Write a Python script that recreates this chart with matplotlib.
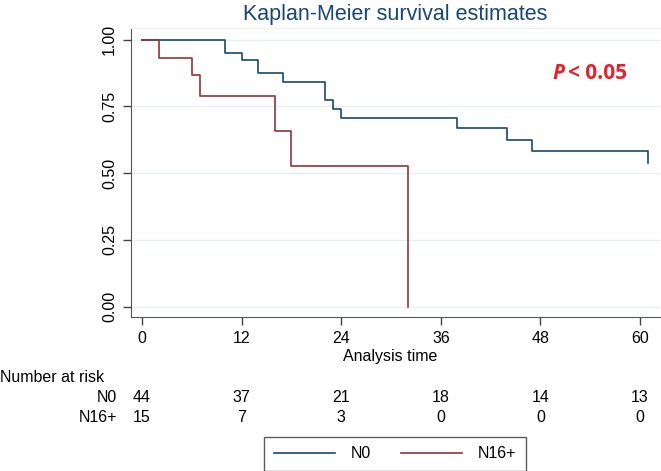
import matplotlib
matplotlib.use('Agg')
from matplotlib import pyplot as plt
from matplotlib import transforms

plt.rcParams['font.family'] = ['Liberation Sans', 'DejaVu Sans']

# Kaplan-Meier step values
n0_time = [0, 10, 12, 14, 17, 22, 23, 24, 38, 44, 47, 61]
n0_surv = [1.0, 0.95, 0.925, 0.875, 0.843, 0.775, 0.74, 0.705, 0.668, 0.625, 0.584, 0.538]

n16_time = [0, 2, 6, 7, 16, 18, 32]
n16_surv = [1.0, 0.933, 0.867, 0.789, 0.659, 0.527, 0.0]

xticks = [0, 12, 24, 36, 48, 60]
yticks = [0.0, 0.25, 0.5, 0.75, 1.0]

risk_groups = ['N0', 'N16+']
risk_n0 = [44, 37, 21, 18, 14, 13]
risk_n16 = [15, 7, 3, 0, 0, 0]

blue = '#1a476f'
red = '#90353b'

W, H = 661, 471
fig = plt.figure(figsize=(W / 100, H / 100), dpi=100)
ax = fig.add_axes([131 / W, 1 - 317 / H, (660 - 131) / W, (317 - 28) / H])

ax.step(n0_time, n0_surv, where='post', color=blue, lw=1.2)
ax.step(n16_time, n16_surv, where='post', color=red, lw=1.2)

ax.set_xlim(-1.33, 62.4)
ax.set_ylim(-0.0386, 1.0438)
ax.set_xticks(xticks)
ax.set_yticks(yticks)
ax.set_yticklabels(['%.2f' % v for v in yticks], rotation=90, va='center')
ax.tick_params(axis='both', labelsize=11.5, length=6, width=1, color='#444444', pad=4)
ax.grid(axis='y', color='#e6eef0', lw=1)
ax.set_axisbelow(True)

ax.spines['right'].set_visible(False)
ax.spines['top'].set_color('#eef2f4')
ax.spines['left'].set_color('#555555')
ax.spines['bottom'].set_color('#555555')

ax.set_title('Kaplan-Meier survival estimates', fontsize=15.5, color=blue, pad=6)

# p-value note: italic P then the rest
pt = ax.text(49.4, 0.875, 'P', color='#e3222b', fontsize=15, fontweight='bold',
             fontstyle='italic', family='Open Sans', ha='left', va='center')
ax.annotate('< 0.05', xy=(1, 0.5), xycoords=pt, xytext=(3, 0), textcoords='offset points',
            color='#e3222b', fontsize=15, fontweight='bold', family='Open Sans',
            ha='left', va='center')

# x label and number at risk table below the axis
trans = transforms.blended_transform_factory(ax.transData, fig.transFigure)
fig.text(390 / W, 1 - 357 / H, 'Analysis time', ha='center', va='center', fontsize=11.5)
fig.text(0.0, 1 - 378 / H, 'Number at risk', ha='left', va='center', fontsize=11.5)
fig.text(117 / W, 1 - 398 / H, risk_groups[0], ha='right', va='center', fontsize=11.5)
fig.text(117 / W, 1 - 418 / H, risk_groups[1], ha='right', va='center', fontsize=11.5)
for t, a, b in zip(xticks, risk_n0, risk_n16):
    ax.text(t, 1 - 398 / H, str(a), transform=trans, ha='center', va='center', fontsize=11.5)
    ax.text(t, 1 - 418 / H, str(b), transform=trans, ha='center', va='center', fontsize=11.5)

h1, = ax.plot([], [], color=blue, lw=1.2, label='N0')
h2, = ax.plot([], [], color=red, lw=1.2, label='N16+')
leg = fig.legend(handles=[h1, h2], loc='center', bbox_to_anchor=(395 / W, 1 - 454 / H),
                 ncol=2, frameon=True, fancybox=False, edgecolor='#333333',
                 fontsize=11.5, handlelength=3.8, columnspacing=1.9, handletextpad=1.0,
                 borderpad=0.6)
leg.get_frame().set_linewidth(1.0)

fig.savefig('out.png', dpi=100)
